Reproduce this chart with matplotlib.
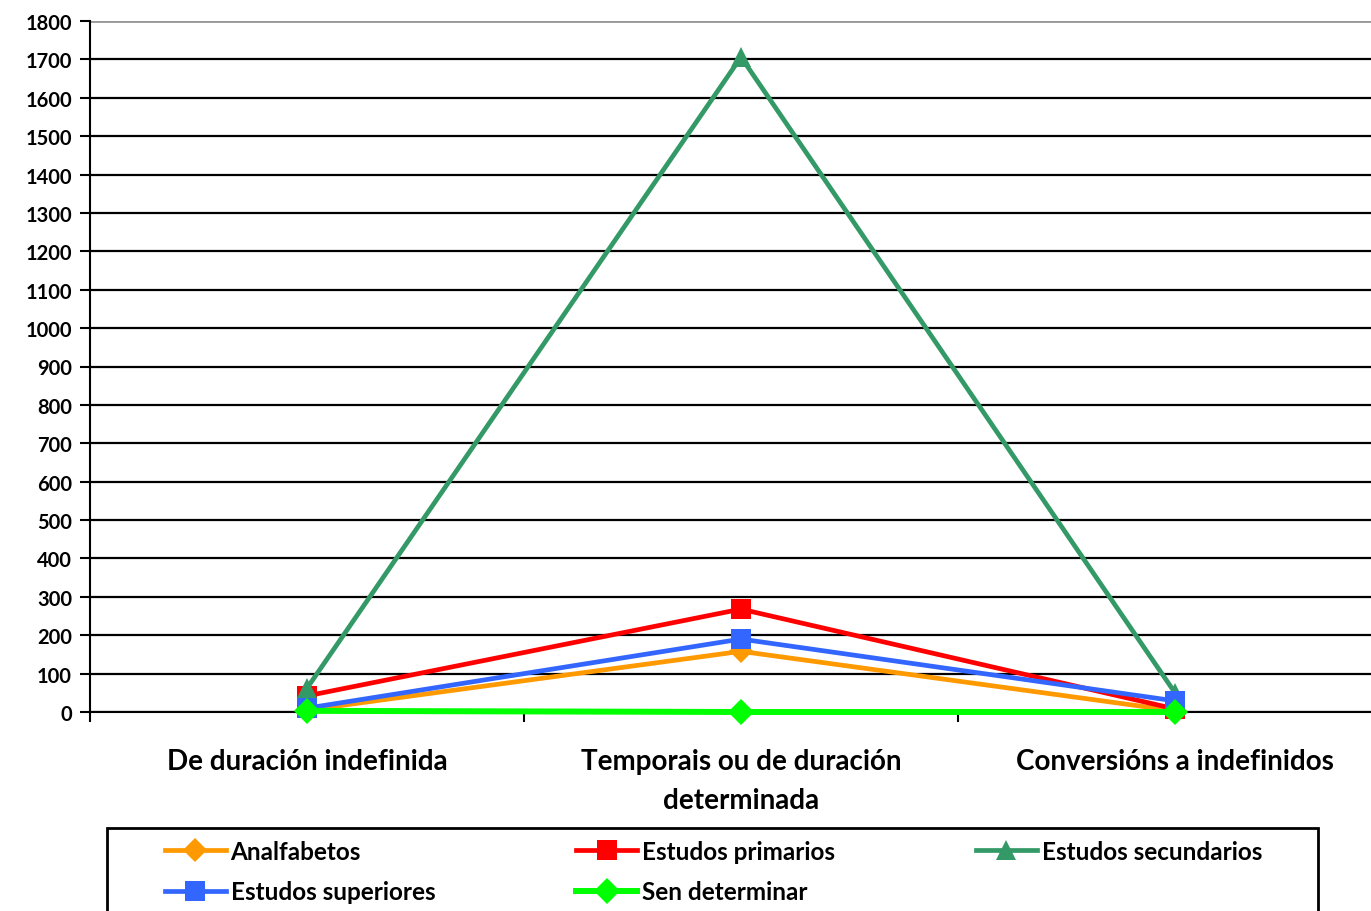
import matplotlib.pyplot as plt
import matplotlib.ticker as ticker
from matplotlib.patches import Rectangle
import numpy as np

plt.rcParams['font.family'] = ['Lato', 'DejaVu Sans']
plt.rcParams['font.weight'] = 'bold'

categorias = ['De duración indefinida', 'Temporais ou de duración\ndeterminada', 'Conversións a indefinidos']

series = ['Analfabetos', 'Estudos primarios', 'Estudos secundarios', 'Estudos superiores', 'Sen determinar']
analfabetos = [5, 158, 3]
primarios = [42, 268, 8]
secundarios = [62, 1706, 50]
superiores = [10, 190, 29]
sen_determinar = [3, 0, 0]

cores = ['#FF9900', '#FF0000', '#339966', '#3366FF', '#00FF00']
marcadores = ['D', 's', '^', 's', 'D']
tamanos = [12, 15, 15, 15, 13.5]
grosores = [3.4, 3.4, 3.4, 3.4, 4.3]

fig = plt.figure(figsize=(13.71, 9.12), dpi=100)
ax = fig.add_axes([90/1371, 199/912, 1302/1371, 691/912])

x = np.arange(len(categorias))
lineas = []
for vals, nome, c, m, s, g in zip([analfabetos, primarios, secundarios, superiores, sen_determinar],
                                  series, cores, marcadores, tamanos, grosores):
    l, = ax.plot(x, vals, color=c, lw=g, marker=m, markersize=s, label=nome,
                 markeredgewidth=0, clip_on=False, zorder=3)
    lineas.append(l)

ax.set_xlim(-0.5, 2.5)
ax.set_ylim(0, 1800)
ax.yaxis.set_major_locator(ticker.MultipleLocator(100))
ax.grid(axis='y', color='black', lw=1.6)
ax.axhline(1800, color='#999999', lw=2, zorder=2)

ax.set_xticks(x)
ax.set_xticklabels(categorias, fontsize=20, fontweight='bold', linespacing=1.6)
ax.xaxis.set_minor_locator(ticker.FixedLocator([-0.5, 0.5, 1.5]))
ax.tick_params(axis='x', which='major', length=0, pad=26)
ax.tick_params(axis='x', which='minor', length=7, width=1.5, direction='out')
ax.tick_params(axis='y', length=7, width=1.5, direction='out', labelsize=14.5, pad=6)
for lbl in ax.get_yticklabels():
    lbl.set_fontweight('bold')

for side in ['top', 'right']:
    ax.spines[side].set_visible(False)
ax.spines['left'].set_linewidth(1.5)
ax.spines['bottom'].set_linewidth(1.5)

# orde por filas: A, P, Sec / Sup, Sen
orde = [0, 3, 1, 4, 2]
leg = fig.legend([lineas[i] for i in orde], [series[i] for i in orde],
                 loc='upper left', bbox_to_anchor=(165/1371, 0, 1097/1371, 1 - 841/912),
                 mode='expand', ncol=3, frameon=False,
                 handlelength=2.5, handletextpad=0.2, borderaxespad=0, borderpad=0,
                 labelspacing=0.72, columnspacing=1.0, prop={'weight': 'bold', 'size': 17.5})

fig.patches.append(Rectangle((107/1371, -0.05), 1211/1371, 0.05 + 1 - 829/912,
                             transform=fig.transFigure, fill=False, edgecolor='black',
                             linewidth=2, clip_on=False))

fig.savefig('out.png', dpi=100)
